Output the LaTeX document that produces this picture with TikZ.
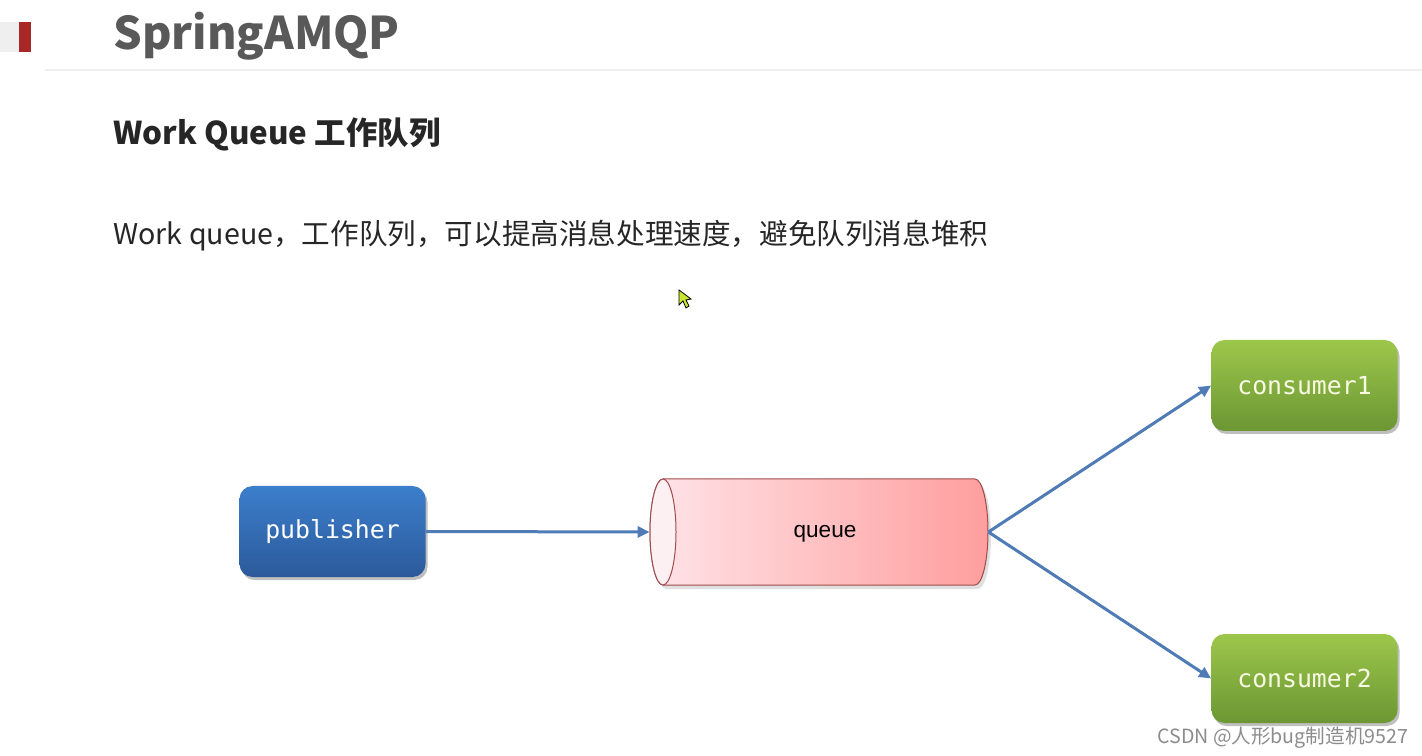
\documentclass[tikz,border=0pt]{standalone}
\usepackage{fontspec}
\setmainfont{Noto Sans CJK SC}
\newfontfamily\monof{DejaVu Sans Mono}
\newfontfamily\arialf{Liberation Sans}
\usetikzlibrary{arrows.meta,shadows}
\definecolor{titlegray}{HTML}{595959}
\definecolor{textdark}{HTML}{262626}
\definecolor{arrowblue}{HTML}{4F7BB6}
\definecolor{pubtop}{HTML}{3C7ECB}
\definecolor{pubbot}{HTML}{2B5A9B}
\definecolor{contop}{HTML}{9DC74B}
\definecolor{conbot}{HTML}{6B9633}
\definecolor{qleft}{HTML}{FFE4E8}
\definecolor{qright}{HTML}{FF9E9E}
\definecolor{qface}{HTML}{FDF0F2}
\definecolor{qborder}{HTML}{9E4B4B}
\definecolor{hdrred}{HTML}{A82828}
\definecolor{hdrgray}{HTML}{EFEFEF}
\definecolor{wmgray}{HTML}{8C8C8C}
\definecolor{cursorcol}{HTML}{C8E632}
\tikzset{
  box/.style={rounded corners=6.5pt, minimum width=93pt, minimum height=45.5pt, inner sep=0pt,
    drop shadow={shadow xshift=1pt, shadow yshift=-1.5pt, opacity=0.25, fill=black}},
  pubbox/.style={box, top color=pubtop, bottom color=pubbot, text=white},
  conbox/.style={box, top color=contop, bottom color=conbot, text={rgb,255:red,248;green,250;blue,228}},
  boxtext/.style={font=\monof\fontsize{12.4pt}{14pt}\selectfont},
  flow/.style={draw=arrowblue, line width=1.5pt, -{Triangle[length=6pt,width=5.5pt]}},
  txt/.style={anchor=base west, inner sep=0pt}
}
\begin{document}
\begin{tikzpicture}[x=0.5pt,y=0.5pt]
\useasboundingbox[fill=white] (0,0) rectangle (1422,755);
% header
\fill[hdrgray] (0,703) rectangle (19,733);
\fill[hdrred] (19,703) rectangle (31,733);
\draw[hdrgray, line width=0.6pt] (45,685) -- (1422,685);
\node[txt, text=titlegray, font=\bfseries\fontsize{22.5pt}{26pt}\selectfont] (title) at (113,705) {SpringAMQP};
\node[txt, text=textdark, font=\bfseries\fontsize{15.7pt}{18pt}\selectfont] (sub) at (113,610) {Work Queue 工作队列};
\node[txt, text=textdark, font=\fontsize{14.3pt}{17pt}\selectfont] (desc) at (113,510) {Work queue，工作队列，可以提高消息处理速度，避免队列消息堆积};
% cursor
\draw[black, line width=0.4pt, fill=cursorcol] (679,465) -- (679,450) -- (683,454) -- (686,447) -- (689,449) -- (686,455) -- (691,456) -- cycle;
% queue cylinder
\node[minimum width=169pt, minimum height=53pt, inner sep=0pt] (q) at (819,223) {};
\fill[black, opacity=0.12] (666,272) -- (978,272) arc[start angle=90,end angle=-90,x radius=13,y radius=53] -- (666,166) arc[start angle=270,end angle=90,x radius=13,y radius=53] -- cycle;
\shade[left color=qleft, right color=qright, draw=qborder, line width=0.5pt]
  (663,276) -- (975,276) arc[start angle=90,end angle=-90,x radius=13,y radius=53] -- (663,170) arc[start angle=270,end angle=90,x radius=13,y radius=53] -- cycle;
\draw[qborder, fill=qface, line width=0.5pt] (663,223) ellipse[x radius=13, y radius=53];
\node[font=\arialf\fontsize{11.3pt}{13pt}\selectfont, text=black] (qlabel) at (825,221) {queue};
% boxes
\node[pubbox, boxtext] (pub) at (332.5,223.5) {publisher};
\node[conbox, boxtext] (c1) at (1304.5,369.5) {consumer1};
\node[conbox, boxtext, minimum height=44.5pt] (c2) at (1304.5,76.5) {consumer2};
% connectors
\draw[flow] (pub.east) -- (q.west);
\draw[flow] (q.east) -- (c1.west);
\draw[flow] (q.east) -- (c2.west);
% watermark
\node[txt, text=wmgray, font=\fontsize{9.8pt}{11pt}\selectfont] (wm) at (1157,12) {CSDN @人形bug制造机9527};
\end{tikzpicture}
\end{document}
